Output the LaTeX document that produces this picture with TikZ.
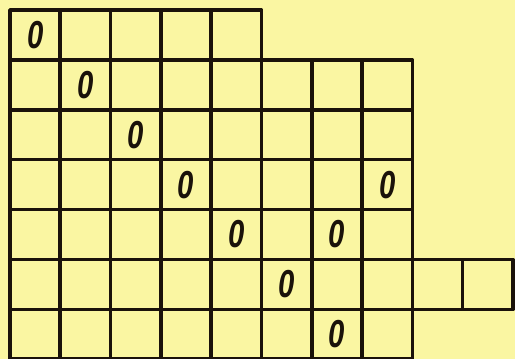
\documentclass[tikz,border=0pt]{standalone}
\usepackage{fontspec}
\newfontfamily\handfont{Liberation Sans}
\usepackage{xcolor}
\definecolor{paper}{HTML}{FAF6A2}
\definecolor{ink}{HTML}{1A120A}

\begin{document}
\begin{tikzpicture}[
  x=50.3pt, y=-49.9pt,
  cell/.style={draw=ink, line width=3.6pt, line join=round},
  zero/.style={inner sep=0pt, text=ink, xscale=0.75, font=\handfont\bfseries\itshape\fontsize{39}{39}\selectfont}
]
  % paper
  \fill[paper] (-0.1988,-0.2004) rectangle (10.04,6.994);
  \useasboundingbox (-0.1988,-0.2004) rectangle (10.04,6.994);

  % rows of cells: row / number of cells
  \foreach \r/\n in {1/5, 2/8, 3/8, 4/8, 5/8, 6/10, 7/8}
    \foreach \c in {1,...,\n}
      \draw[cell] (\c-1,\r-1) rectangle (\c,\r);

  % zeros
  \node[zero] (z11) at (0.5,0.5) {0};
  \node[zero] (z22) at (1.5,1.5) {0};
  \node[zero] (z33) at (2.5,2.5) {0};
  \node[zero] (z44) at (3.5,3.5) {0};
  \node[zero] (z48) at (7.5,3.5) {0};
  \node[zero] (z55) at (4.5,4.5) {0};
  \node[zero] (z57) at (6.5,4.5) {0};
  \node[zero] (z66) at (5.5,5.5) {0};
  \node[zero] (z77) at (6.5,6.5) {0};
\end{tikzpicture}
\end{document}
